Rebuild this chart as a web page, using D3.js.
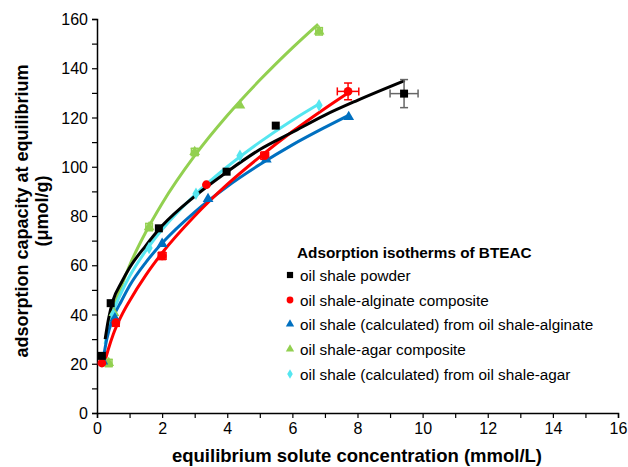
<!DOCTYPE html>
<html><head><meta charset="utf-8">
<script src="https://cdn.jsdelivr.net/npm/d3@7"></script>
<style>body{margin:0;background:#fff}svg{display:block;font-family:"Liberation Sans",Arial,sans-serif}</style>
</head><body><svg id="c" width="628" height="467"></svg>
<script>
// ---- data ----
const xTicks = [0,2,4,6,8,10,12,14,16];
const yTicks = [0,20,40,60,80,100,120,140,160];
const seriesNames = ["oil shale powder","oil shale-alginate composite","oil shale (calculated) from oil shale-alginate","oil shale-agar composite","oil shale (calculated) from oil shale-agar"];
const seriesColors = ["#000000","#ff0000","#0070c0","#92d050","#55e6f0"];
const seriesShapes = ["square","circle","triangle","triangle","diamond"];

const powderX = [0.15,0.42,1.9,3.98,5.49,9.43];
const powderY = [23.2,44.6,75,98,116.7,129.7];
const alginateX = [0.15,0.58,2.0,3.36,5.15,7.71];
const alginateY = [20.3,36.7,63.8,92.7,104.5,130.6];
const calcAlgX = [0.18,0.55,2.0,3.41,5.2,7.73];
const calcAlgY = [21,38.5,68.7,86.9,103,120.2];
const agarX = [0.36,0.52,1.6,3.0,4.39,6.82];
const agarY = [20.3,40.6,75.5,106,124.9,155];
const calcAgarX = [0.18,0.5,1.6,3.04,4.39,6.82];
const calcAgarY = [21,40,67,89,104.5,125];

// error bars [x, y, xerr, yerr]
const powderErr = [[9.43,129.7,0.43,5.7]];
const alginateErr = [[7.71,130.6,0.33,3.4],[2.0,63.8,0.12,1.5],[0.58,36.7,0.1,1.5],[5.15,104.5,0.12,1.5]];
const agarErr = [[6.82,155,0.1,1.5],[1.6,75.5,0.1,1.5],[3.0,106,0.1,1.5],[0.36,20.3,0.1,1.5]];

// trend curves
const powderCurveX = [0.25,0.35,0.5,0.75,1,1.5,2,3,4,5,6,7,8,9.45];
const powderCurveY = [30,38,46,53,59,68,76,88,98,107,114,121,127,135];
const alginateCurveX = [0.22,0.35,0.5,0.75,1,1.5,2,3,4,5,6,7,7.71];
const alginateCurveY = [20,26,32,39.5,45.5,56,65,80,92.8,104,114.3,123.7,130];
const calcAlgCurveX = [0.18,0.3,0.5,0.75,1,1.5,2,3,4,5,6,7,7.73];
const calcAlgCurveY = [21,30,38.8,45.5,51.7,61.2,69,81.6,92,100.9,108.9,116,120.9];
const agarCurveX = [0.36,0.5,0.75,1,1.5,2,3,4,5,6,6.79];
const agarCurveY = [35,42.2,51.5,59.9,73.5,85.1,104.5,120.8,135.2,148.3,157.9];
const calcAgarCurveX = [0.25,0.35,0.5,0.75,1,1.5,2,3,4,5,6,6.82];
const calcAgarCurveY = [28,35,41.3,49,55.5,65.9,74.5,88.5,100,110,118.9,125.5];

// ---- chart ----
const svg = d3.select("#c");
const x = d3.scaleLinear().domain([0,16]).range([97,618]);
const y = d3.scaleLinear().domain([0,160]).range([413,19]);

const xAxis = d3.axisBottom(x).tickValues(d3.range(0,17,1)).tickSize(5).tickFormat(d => xTicks.includes(d) ? d : "");
const yAxis = d3.axisLeft(y).tickValues(d3.range(0,161,10)).tickSize(5).tickFormat(d => yTicks.includes(d) ? d : "");

const gx = svg.append("g").attr("transform","translate(0,413)").call(xAxis);
const gy = svg.append("g").attr("transform","translate(97,0)").call(yAxis);
[gx,gy].forEach(g=>{
  g.select(".domain").attr("stroke","#000").attr("stroke-width",1.5);
  g.selectAll(".tick line").attr("stroke","#000").attr("stroke-width",1.2);
  g.selectAll(".tick text").attr("font-size",16).attr("fill","#000").attr("font-family","Liberation Sans, Arial, sans-serif");
});
gx.selectAll(".tick text").attr("dy","0.95em").attr("y",6);
gy.selectAll(".tick text").attr("x",-9).attr("dy","0.35em");

// axis titles
svg.append("text").attr("x",357).attr("y",462).attr("text-anchor","middle")
  .attr("font-size",18.5).attr("font-weight","bold").text("equilibrium solute concentration (mmol/L)");
const yt = svg.append("text").attr("transform","translate(28,211) rotate(-90)").attr("text-anchor","middle")
  .attr("font-size",18).attr("font-weight","bold");
yt.append("tspan").attr("x",0).attr("dy",0).text("adsorption capacity at equilibrium");
yt.append("tspan").attr("x",0).attr("dy",20).text("(\u03bcmol/g)");

// curves
const line = d3.line().x(d=>x(d[0])).y(d=>y(d[1])).curve(d3.curveMonotoneX);
const curves = [
  [powderCurveX,powderCurveY],[alginateCurveX,alginateCurveY],[calcAlgCurveX,calcAlgCurveY],
  [agarCurveX,agarCurveY],[calcAgarCurveX,calcAgarCurveY]];
const order = [3,4,2,1,0];
order.forEach(i=>{
  const pts = d3.zip(curves[i][0],curves[i][1]);
  svg.append("path").attr("d",line(pts)).attr("fill","none").attr("stroke",seriesColors[i]).attr("stroke-width",3);
});

// error bars
function errBars(arr,color){
  arr.forEach(([cx,cy,ex,ey])=>{
    const g = svg.append("g").attr("stroke",color).attr("stroke-width",1.5);
    g.append("line").attr("x1",x(cx-ex)).attr("x2",x(cx+ex)).attr("y1",y(cy)).attr("y2",y(cy));
    g.append("line").attr("x1",x(cx)).attr("x2",x(cx)).attr("y1",y(cy-ey)).attr("y2",y(cy+ey));
    g.append("line").attr("x1",x(cx-ex)).attr("x2",x(cx-ex)).attr("y1",y(cy)-4).attr("y2",y(cy)+4);
    g.append("line").attr("x1",x(cx+ex)).attr("x2",x(cx+ex)).attr("y1",y(cy)-4).attr("y2",y(cy)+4);
    g.append("line").attr("x1",x(cx)-4).attr("x2",x(cx)+4).attr("y1",y(cy-ey)).attr("y2",y(cy-ey));
    g.append("line").attr("x1",x(cx)-4).attr("x2",x(cx)+4).attr("y1",y(cy+ey)).attr("y2",y(cy+ey));
  });
}
errBars(powderErr,"#666");
errBars(alginateErr,"#ff0000");
errBars(agarErr,"#92d050");

// markers
const symType = {square:d3.symbolSquare,circle:d3.symbolCircle,triangle:d3.symbolTriangle,diamond:d3.symbolDiamond};
const symSize = {square:64,circle:60,triangle:50,diamond:45};
function marker(sel,shape,color,scale=1){
  sel.append("path").attr("d",d3.symbol().type(symType[shape]).size(symSize[shape]*scale)).attr("fill",color);
}
const pts = [[powderX,powderY],[alginateX,alginateY],[calcAlgX,calcAlgY],[agarX,agarY],[calcAgarX,calcAgarY]];
order.forEach(i=>{
  d3.zip(pts[i][0],pts[i][1]).forEach(([px,py])=>{
    const g = svg.append("g").attr("transform",`translate(${x(px)},${y(py)})`);
    marker(g,seriesShapes[i],seriesColors[i]);
  });
});

// legend
svg.append("text").attr("x",297).attr("y",258).attr("font-size",15.3).attr("font-weight","bold").text("Adsorption isotherms of BTEAC");
const rows = [281,306,330,355,380];
seriesNames.forEach((n,i)=>{
  const g = svg.append("g").attr("transform",`translate(290,${rows[i]-6})`);
  marker(g,seriesShapes[i],seriesColors[i],0.6);
  svg.append("text").attr("x",300).attr("y",rows[i]).attr("font-size",15.3).text(n);
});
</script></body></html>
